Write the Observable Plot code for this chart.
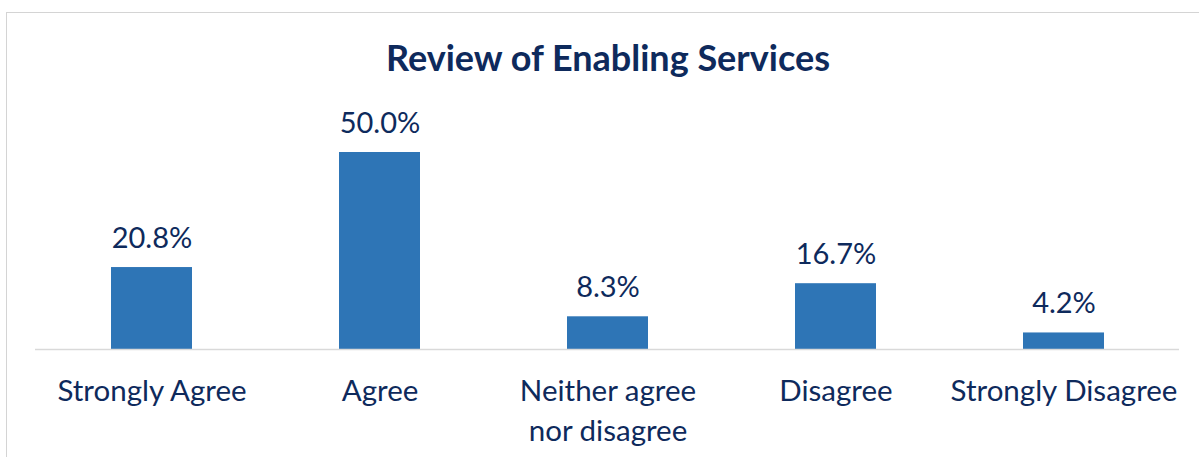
<!DOCTYPE html>
<html>
<head>
<meta charset="utf-8">
<script src="https://cdn.jsdelivr.net/npm/d3@7"></script>
<script src="https://cdn.jsdelivr.net/npm/@observablehq/plot@0.6"></script>
<style>
  html, body { margin: 0; padding: 0; background: #fff; }
  body { width: 1199px; height: 457px; overflow: hidden; position: relative; font-family: Lato, sans-serif; }
  #frame { position: absolute; left: 6px; top: 12px; width: 1220px; height: 480px; border: 1.3px solid #d4d4d4; box-sizing: border-box; pointer-events: none; }
  #titlebox { position: relative; height: 100px; }
  #title { position: absolute; left: 6px; width: 1204px; top: 39px; text-align: center; font-family: Lato, sans-serif; font-weight: 700; font-size: 36px; line-height: 36px; color: #0e2a5c; }
  #chart svg { display: block; }
</style>
</head>
<body>
<div id="frame"></div>
<div id="titlebox"><div id="title">Review of Enabling Services</div></div>
<div id="chart"></div>
<script>
const categories = ["Strongly Agree", "Agree", "Neither agree nor disagree", "Disagree", "Strongly Disagree"];
const tickLabels = ["Strongly Agree", "Agree", "Neither agree\nnor disagree", "Disagree", "Strongly Disagree"];
const values = [20.8, 50.0, 8.3, 16.7, 4.2];

const data = categories.map((c, i) => ({category: c, value: values[i], label: tickLabels[i]}));
const labelOf = new Map(data.map(d => [d.category, d.label]));

const navy = "#0e2a5c";
const chart = Plot.plot({
  width: 1199,
  height: 357,
  marginLeft: 35,
  marginRight: 20,
  marginTop: 52,
  marginBottom: 108,
  style: {fontFamily: "Lato, sans-serif", color: navy, background: "transparent"},
  x: {domain: categories, paddingInner: 0.646, paddingOuter: 0.323, label: null},
  y: {domain: [0, 50], axis: null},
  marks: [
    Plot.barY(data, {x: "category", y: "value", fill: "#2e75b6"}),
    Plot.ruleY([0], {stroke: "#d9d9d9", strokeWidth: 1.5}),
    Plot.text(data, {x: "category", y: "value", text: d => d.value.toFixed(1) + "%", lineAnchor: "bottom", dy: -20, fontSize: 29, fill: navy}),
    Plot.axisX({tickSize: 0, tickPadding: 23, fontSize: 29.5, lineHeight: 1.356, tickFormat: d => labelOf.get(d), fill: navy, label: null})
  ]
});
document.getElementById("chart").appendChild(chart);
</script>
</body>
</html>
